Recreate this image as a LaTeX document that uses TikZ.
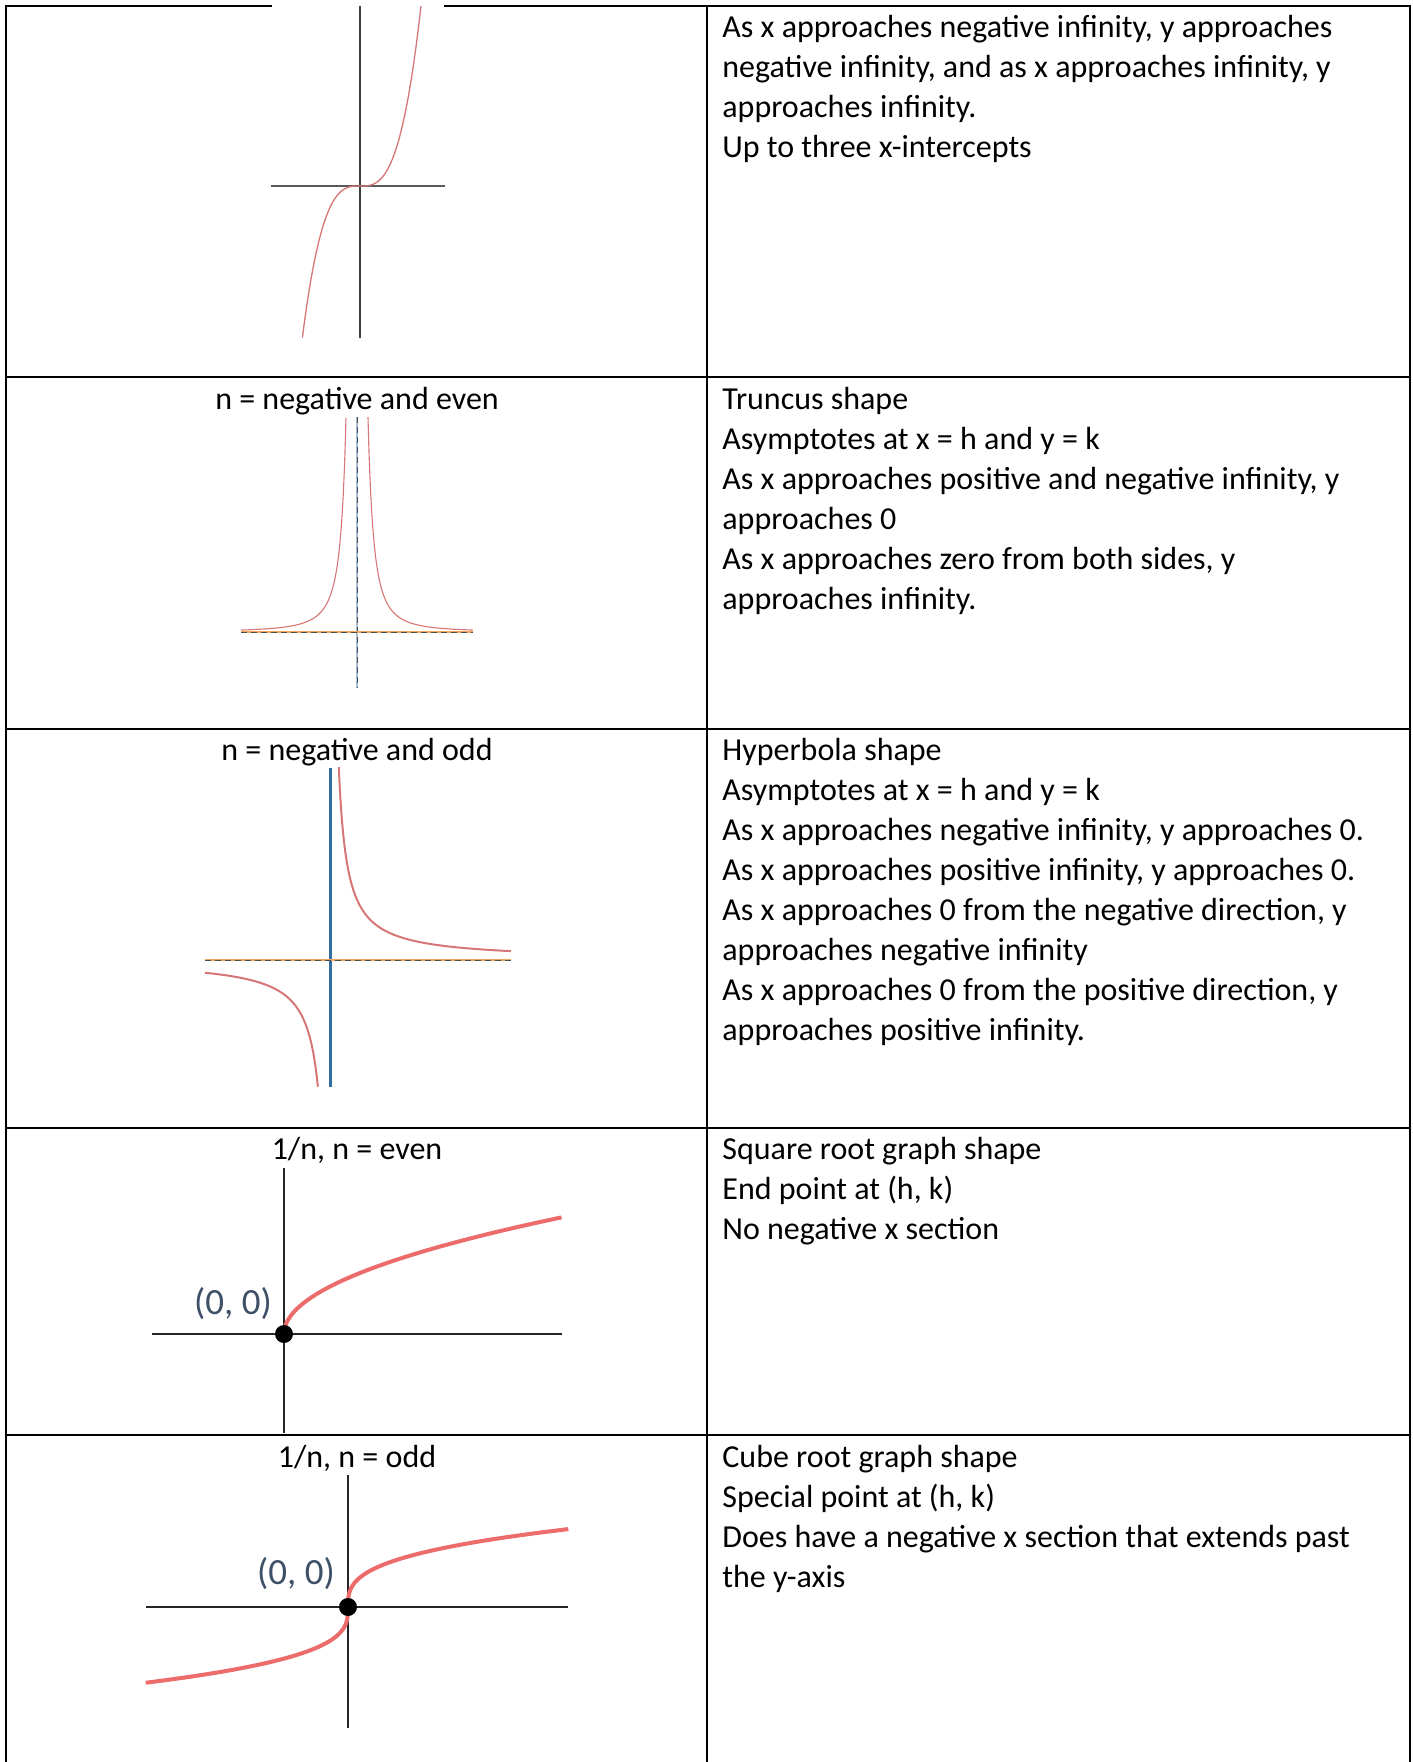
\documentclass[tikz,border=0pt]{standalone}
\usepackage{fontspec}
\setmainfont{Carlito}
\usepackage{tikz}
\usetikzlibrary{positioning}

\definecolor{curvepink}{RGB}{214,118,118}
\definecolor{rootred}{RGB}{236,108,108}
\definecolor{asymorange}{RGB}{240,166,92}
\definecolor{axisblue}{RGB}{52,108,164}
\definecolor{labelslate}{RGB}{62,80,102}

\begin{document}
\begin{tikzpicture}[
    x=0.5pt, y=-0.5pt,
    grid/.style={line width=1.3pt, black, line cap=rect},
    desc/.style={anchor=base west, inner sep=0pt, font=\fontsize{16}{20}\selectfont},
    head/.style={anchor=base, inner sep=0pt, font=\fontsize{16}{20}\selectfont},
    origin/.style={inner sep=0pt, text=labelslate, font=\fontsize{18.5}{20}\selectfont},
    thinaxis/.style={line width=#1, black!75},
    thinaxis/.default=0.7pt,
    rootaxis/.style={line width=1.35pt, black!85},
    asym/.style={line width=1.3pt, asymorange},
    asymdash/.style={line width=0.5pt, black!70, dash pattern=on 3pt off 2pt},
    curve/.style={line width=#1, curvepink},
    curve/.default=0.65pt,
    rootcurve/.style={line width=2pt, rootred}
]
\useasboundingbox (0,0) rectangle (1413,1762);

% Table lines
\draw[grid] (6,6) -- (271,6);
\draw[grid] (445,6) -- (1410,6);
\draw[grid] (6,6) -- (6,1762);
\draw[grid] (707,6) -- (707,1762);
\draw[grid] (1410,6) -- (1410,1762);
\foreach \r in {377,729,1128,1435}
    \draw[grid] (6,\r) -- (1410,\r);

% Row headers
\node[head] (h2) at (357,409) {n = negative and even};
\node[head] (h3) at (357,760) {n = negative and odd};
\node[head] (h4) at (357,1159) {1/n, n = even};
\node[head] (h5) at (357,1467) {1/n, n = odd};

% Descriptions
\foreach \ln [count=\i] in {{As x approaches negative infinity, y approaches},
    {negative infinity, and as x approaches infinity, y},
    {approaches infinity.}, {Up to three x-intercepts}}
    \node[desc] (cubic-\i) at (722,{37+40*(\i-1)}) {\ln};
\foreach \ln [count=\i] in {{Truncus shape}, {Asymptotes at x = h and y = k},
    {As x approaches positive and negative infinity, y}, {approaches 0},
    {As x approaches zero from both sides, y}, {approaches infinity.}}
    \node[desc] (truncus-\i) at (722,{409+40*(\i-1)}) {\ln};
\foreach \ln [count=\i] in {{Hyperbola shape}, {Asymptotes at x = h and y = k},
    {As x approaches negative infinity, y approaches 0.},
    {As x approaches positive infinity, y approaches 0.},
    {As x approaches 0 from the negative direction, y},
    {approaches negative infinity},
    {As x approaches 0 from the positive direction, y},
    {approaches positive infinity.}}
    \node[desc] (hyper-\i) at (722,{760+40*(\i-1)}) {\ln};
\foreach \ln [count=\i] in {{Square root graph shape}, {End point at (h, k)},
    {No negative x section}}
    \node[desc] (sqroot-\i) at (722,{1159+40*(\i-1)}) {\ln};
\foreach \ln [count=\i] in {{Cube root graph shape}, {Special point at (h, k)},
    {Does have a negative x section that extends past}, {the y-axis}}
    \node[desc] (cbroot-\i) at (722,{1467+40*(\i-1)}) {\ln};

% Cubic graph
\draw[thinaxis] (360,6) -- (360,338);
\draw[thinaxis=1.2pt, black!65] (271,186) -- (445,186);
\draw[curve] plot[domain=-5.76:6.1, samples=100] ({360+10*\x}, {186-0.793*\x*\x*\x});

% Truncus graph
\draw[line width=1pt, axisblue!45] (357,417) -- (357,688);
\draw[asymdash] (357,417) -- (357,688);
\draw[asym] (241,632) -- (473,632);
\draw[asymdash] (241,632) -- (473,632);
\draw[curve=0.55pt] plot[domain=1.1:11.6, samples=300] ({357+10*\x}, {632-260/(\x*\x)});
\draw[curve=0.55pt] plot[domain=-11.6:-1.1, samples=300] ({357+10*\x}, {632-260/(\x*\x)});

% Hyperbola graph
\draw[line width=1.1pt, axisblue] (330.5,768) -- (330.5,1087);
\draw[asym] (205,960) -- (511,960);
\draw[asymdash] (205,960) -- (511,960);
\draw[curve=1pt] plot[domain=0.83:18.05, samples=300] ({330.5+10*\x}, {960-160/\x});
\draw[curve=1pt] plot[domain=-12.55:-1.26, samples=300] ({330.5+10*\x}, {960-160/\x});

% Square root graph
\draw[rootaxis] (284,1168) -- (284,1433);
\draw[rootaxis] (152,1334) -- (561.5,1334);
\draw[rootcurve] plot[domain=0:16.66, samples=80, variable=\t] ({284+\t*\t}, {1334-7*\t});
\fill (284,1334) circle (4.5pt);
\node[origin] (zero-even) at (233,1304) {(0, 0)};

% Cube root graph
\draw[rootaxis] (348,1475) -- (348,1728);
\draw[rootaxis] (146,1607) -- (568,1607);
\draw[rootcurve] plot[domain=-5.87:6.04, samples=120, variable=\t] ({348+\t*\t*\t}, {1607-12.9*\t});
\fill (348,1607) circle (4.5pt);
\node[origin] (zero-odd) at (296,1574) {(0, 0)};

\end{tikzpicture}
\end{document}
